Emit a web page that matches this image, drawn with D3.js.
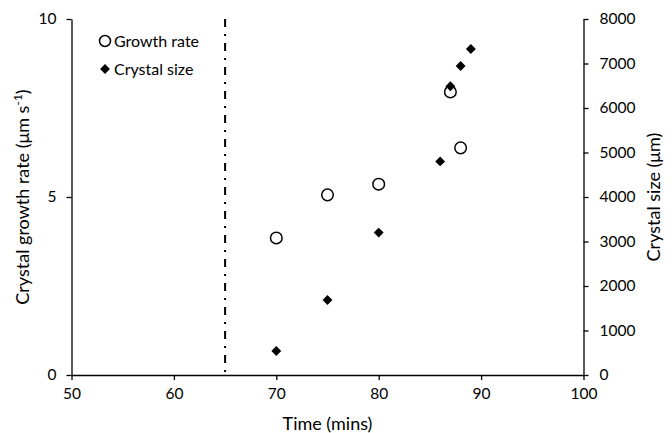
<!DOCTYPE html>
<html><head><meta charset="utf-8">
<script src="https://cdn.jsdelivr.net/npm/d3@7"></script>
<style>body{margin:0;background:#fff}text{font-family:Lato,"Open Sans",sans-serif;fill:#000}</style>
</head><body><svg id="c" width="672" height="433"></svg>
<script>
const growthTime = [70, 75, 80, 87, 88];
const growthRate = [3.85, 5.06, 5.36, 7.95, 6.38];
const sizeTime = [70, 75, 80, 86, 87, 88, 89];
const crystalSize = [540, 1685, 3200, 4800, 6490, 6945, 7325];
const xTicks = [50, 60, 70, 80, 90, 100];
const yLeftTicks = [0, 5, 10];
const yRightTicks = [0, 1000, 2000, 3000, 4000, 5000, 6000, 7000, 8000];
const markerTime = 65;

const svg = d3.select("#c");
const L = 71.5, R = 583.5, T = 19, B = 375;
const x = d3.scaleLinear().domain([50, 100]).range([L, R]);
const yL = d3.scaleLinear().domain([0, 10]).range([B, T]);
const yR = d3.scaleLinear().domain([0, 8000]).range([B, T]);
const fmt = d3.format("d");

function style(g){
  g.select(".domain").attr("stroke","#000").attr("stroke-width",1.3);
  g.selectAll(".tick line").attr("stroke","#000").attr("stroke-width",1.3);
  g.selectAll(".tick text").style("font-size","15.5px").style("font-family","Lato, 'Open Sans', sans-serif");
}
svg.append("g").attr("transform",`translate(0,${B})`)
  .call(d3.axisBottom(x).tickValues(xTicks).tickFormat(fmt).tickSize(5).tickSizeOuter(0).tickPadding(8)).call(style);
svg.append("g").attr("transform",`translate(${L},0)`)
  .call(d3.axisLeft(yL).tickValues(yLeftTicks).tickFormat(fmt).tickSize(5).tickSizeOuter(0).tickPadding(10)).call(style);
svg.append("g").attr("transform",`translate(${R},0)`)
  .call(d3.axisRight(yR).tickValues(yRightTicks).tickFormat(fmt).tickSize(5).tickSizeOuter(0).tickPadding(11)).call(style);

// vertical dash-dot line
svg.append("line").attr("x1",x(markerTime)).attr("x2",x(markerTime))
  .attr("y1",T).attr("y2",B).attr("stroke","#000").attr("stroke-width",2)
  .attr("stroke-dasharray","8,7,2,7");

// growth rate circles
svg.selectAll(".gr").data(growthTime.map((t,i)=>[t,growthRate[i]])).enter()
  .append("circle").attr("cx",d=>x(d[0])).attr("cy",d=>yL(d[1])).attr("r",5.8)
  .attr("fill","#fff").attr("stroke","#000").attr("stroke-width",1.5);

// crystal size diamonds
const dia = d3.symbol().type(d3.symbolDiamond2).size(62);
svg.selectAll(".cs").data(sizeTime.map((t,i)=>[t,crystalSize[i]])).enter()
  .append("path").attr("d",dia).attr("transform",d=>`translate(${x(d[0])},${yR(d[1])})`)
  .attr("fill","#000");

// legend
svg.append("circle").attr("cx",105).attr("cy",41).attr("r",5.5).attr("fill","#fff").attr("stroke","#000").attr("stroke-width",1.5);
svg.append("text").attr("x",114).attr("y",47).style("font-size","16px").text("Growth rate");
svg.append("path").attr("d",dia).attr("transform","translate(105,69)").attr("fill","#000");
svg.append("text").attr("x",114).attr("y",75).style("font-size","16px").text("Crystal size");

// axis titles
svg.append("text").attr("x",(L+R)/2).attr("y",430).attr("text-anchor","middle").style("font-size","18px").text("Time (mins)");
const lt = svg.append("text").attr("transform",`translate(29,${(T+B)/2}) rotate(-90)`).attr("text-anchor","middle").style("font-size","18px");
lt.append("tspan").text("Crystal growth rate (μm s");
lt.append("tspan").attr("dy",-7).style("font-size","12px").text("-1");
lt.append("tspan").attr("dy",7).text(")");
svg.append("text").attr("transform",`translate(660,${(T+B)/2}) rotate(-90)`).attr("text-anchor","middle").style("font-size","18px").text("Crystal size (μm)");
</script></body></html>
